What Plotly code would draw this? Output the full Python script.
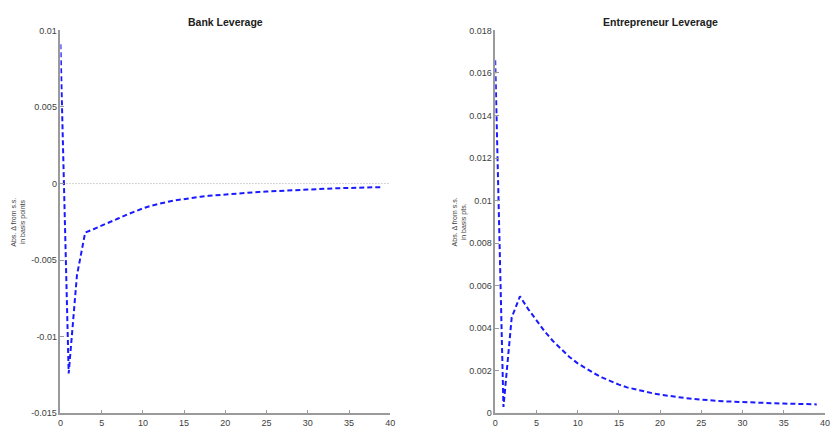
import plotly.graph_objects as go

W, H = 830, 432

periods = list(range(40))

bank_leverage = [
    0.0091, -0.0124, -0.0060, -0.0032, -0.00298, -0.00276, -0.00252, -0.00228, -0.00204, -0.00182,
    -0.00162, -0.00145, -0.00131, -0.00119, -0.00109, -0.00100, -0.00093, -0.00086, -0.00080, -0.00075,
    -0.00070, -0.00065, -0.00061, -0.00058, -0.00055, -0.00052, -0.00049, -0.00046, -0.00043, -0.00041,
    -0.00038, -0.00036, -0.00034, -0.00032, -0.00030, -0.00028, -0.00027, -0.00025, -0.00024, -0.00023,
]

entrepreneur_leverage = [
    0.0166, 0.0003, 0.0045, 0.0055, 0.0049, 0.00435, 0.00385, 0.0034, 0.0030, 0.00265,
    0.00235, 0.0021, 0.00188, 0.00168, 0.0015, 0.00135, 0.00122, 0.00112, 0.00103, 0.00095,
    0.00088, 0.00082, 0.00077, 0.00072, 0.00068, 0.00064, 0.00061, 0.00058, 0.00056, 0.00054,
    0.00052, 0.00050, 0.00049, 0.00048, 0.00047, 0.00046, 0.00045, 0.00044, 0.00043, 0.00042,
]

x_ticks = [0, 5, 10, 15, 20, 25, 30, 35, 40]
left_y_ticks = [-0.015, -0.01, -0.005, 0, 0.005, 0.01]
left_y_labels = ["-0.015", "-0.01", "-0.005", "0", "0.005", "0.01"]
right_y_ticks = [0, 0.002, 0.004, 0.006, 0.008, 0.01, 0.012, 0.014, 0.016, 0.018]
right_y_labels = ["0", "0.002", "0.004", "0.006", "0.008", "0.01", "0.012", "0.014", "0.016", "0.018"]

titles = ["Bank Leverage", "Entrepreneur Leverage"]
ylabels = ["Abs. \u0394 from s.s.<br>in basis points", "Abs. \u0394 from s.s.<br>in basis pts."]

# pixel geometry
top_px, bot_px = 26, 418
left_x = (58, 391)
right_x = (497, 830)

def xd(a, b):
    return [a / W, b / W]

ydom = [(H - bot_px) / H, (H - top_px) / H]

line_style = dict(color="#1a1aff", width=2, dash="5px,3px")

fig = go.Figure()
fig.add_trace(go.Scatter(x=periods, y=bank_leverage, mode="lines", line=line_style,
                         xaxis="x", yaxis="y", showlegend=False))
fig.add_trace(go.Scatter(x=periods, y=entrepreneur_leverage, mode="lines", line=line_style,
                         xaxis="x2", yaxis="y2", showlegend=False))

tickfont = dict(family="Liberation Sans, Arial, sans-serif", size=9, color="#404040")
axis_common = dict(showgrid=False, zeroline=False, showline=True, linecolor="#9a9a9a",
                   linewidth=1.5, ticks="inside", ticklen=4, tickcolor="#9a9a9a",
                   tickwidth=1, tickfont=tickfont, ticklabeloverflow="allow")

fig.update_layout(
    width=W, height=H,
    margin=dict(l=0, r=0, t=0, b=0),
    paper_bgcolor="white", plot_bgcolor="white",
    xaxis=dict(domain=xd(*left_x), range=[0, 40], tickvals=x_ticks, anchor="y", **axis_common),
    yaxis=dict(domain=ydom, range=[-0.015, 0.01], tickvals=left_y_ticks, ticktext=left_y_labels,
               anchor="x", **axis_common),
    xaxis2=dict(domain=xd(*right_x), range=[0, 40], tickvals=x_ticks, anchor="y2", **axis_common),
    yaxis2=dict(domain=ydom, range=[0, 0.018], tickvals=right_y_ticks, ticktext=right_y_labels,
                anchor="x2", **axis_common),
)

# dotted zero reference lines
for xr, yr in (("x", "y"), ("x2", "y2")):
    fig.add_shape(type="line", xref=xr, yref=yr, x0=0, x1=40, y0=0, y1=0,
                  line=dict(color="#a8a8a8", width=1, dash="1px,2px"), layer="below")

# titles
for (a, b), t in zip((left_x, right_x), titles):
    fig.add_annotation(text="<b>" + t + "</b>", x=(a + b) / 2 / W, y=(H - 17) / H,
                       xref="paper", yref="paper", showarrow=False,
                       font=dict(family="Liberation Sans, Arial, sans-serif", size=10.5, color="#202020"),
                       xanchor="center", yanchor="middle")

# y-axis titles
for xpx, lab in zip((16, 461), ylabels):
    fig.add_annotation(text=lab, x=xpx / W, y=(H - 222) / H, xref="paper", yref="paper",
                       showarrow=False, textangle=-90,
                       font=dict(family="Liberation Sans, Arial, sans-serif", size=7, color="#404040"),
                       xanchor="center", yanchor="middle")

fig.write_html("out.html")
